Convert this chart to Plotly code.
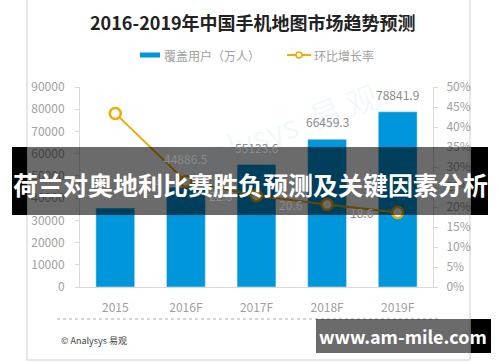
import plotly.graph_objects as go

# ---- data ----
categories = ["2015", "2016F", "2017F", "2018F", "2019F"]
users = [35500.8, 44886.5, 55123.6, 66459.3, 78841.9]
growth = [43.4, 26.4, 22.8, 20.6, 18.6]
growth_labels = ["43.4%", "26.4", "22.8", "20.6", "18.6"]
left_ticks = [0, 10000, 20000, 30000, 40000, 50000, 60000, 70000, 80000, 90000]
right_ticks = [0, 5, 10, 15, 20, 25, 30, 35, 40, 45, 50]
right_ticktext = [f"{t}%" for t in right_ticks]

title = "2016-2019年中国手机地图市场趋势预测"
legend_bar = "覆盖用户（万人）"
legend_line = "环比增长率"
banner = "荷兰对奥地利比赛胜负预测及关键因素分析"
site = "www.am-mile.com"
source = "© Analysys 易观"

W, H = 500, 362
L, R, T, B = 80, 433, 87, 287


def px(x):
    return (x - L) / (R - L)


def py(y):
    return (B - y) / (B - T)


FONT = "Noto Sans CJK SC, Noto Sans, sans-serif"
BLUE = "#0096DB"
ORANGE = "#F2A900"
GRAY = "#a0a0a0"

fig = go.Figure()
fig.add_trace(go.Bar(x=categories, y=users, marker_color=BLUE, width=0.55,
                     showlegend=False, hoverinfo="skip"))
fig.add_trace(go.Scatter(x=categories, y=growth, yaxis="y2", mode="lines+markers",
                         line=dict(color=ORANGE, width=2),
                         marker=dict(symbol="circle", size=11, color="white",
                                     line=dict(color=ORANGE, width=2.5)),
                         showlegend=False, hoverinfo="skip"))

annotations = []
# bar value labels
bar_shift = [11, 22, 11, 11, 11]
for c, v, s in zip(categories, users, bar_shift):
    annotations.append(dict(x=c, y=v, xref="x", yref="y", text=f"{v:.1f}",
                            showarrow=False, yanchor="bottom", xanchor="center", yshift=s - 4,
                            font=dict(family=FONT, size=12, color="#8a8a8a")))
# growth labels
for i, (c, v, t) in enumerate(zip(categories, growth, growth_labels)):
    if i == 0:
        annotations.append(dict(x=c, y=v, xref="x", yref="y2", text=t, showarrow=False,
                                yanchor="bottom", xanchor="center", yshift=5,
                                font=dict(family=FONT, size=12, color="#8a8a8a")))
    else:
        annotations.append(dict(x=c, y=v, xref="x", yref="y2", text=t, showarrow=False,
                                xanchor="right", yanchor="middle", xshift=-22, yshift=0,
                                font=dict(family=FONT, size=12, color="#8a8a8a")))


def paper_text(x, y, text, size, color, xanchor="center", angle=0):
    return dict(x=px(x), y=py(y), xref="paper", yref="paper", text=text,
                showarrow=False, xanchor=xanchor, yanchor="middle", textangle=angle,
                font=dict(family=FONT, size=size, color=color))


# watermark
annotations.append(paper_text(275, 130, "Analysys  易 观", 32, "rgba(0,150,220,0.07)", angle=-20))
# title
annotations.append(paper_text(253, 22, f"<b>{title}</b>", 18, "#222222"))
# legend texts
annotations.append(paper_text(162, 55, legend_bar, 12, "#a0a0a0", xanchor="left"))
annotations.append(paper_text(312, 55, legend_line, 12, "#a0a0a0", xanchor="left"))
# source
annotations.append(paper_text(59, 340, source, 9, "#444444", xanchor="left"))
# banners text
annotations.append(paper_text(250, 184, f"<b>{banner}</b>", 25, "white"))
annotations.append(paper_text(403, 336, f"<b>{site}</b>", 18, "white"))

shapes = [
    # card border
    dict(type="rect", xref="paper", yref="paper", x0=px(27), x1=px(470), y0=py(-2), y1=py(360),
         line=dict(color="#cfcfcf", width=1), fillcolor="rgba(0,0,0,0)", layer="below"),
    # legend bar swatch
    dict(type="rect", xref="paper", yref="paper", x0=px(140), x1=px(160), y0=py(52.5), y1=py(57.5),
         fillcolor=BLUE, line=dict(width=0)),
    # legend line swatch
    dict(type="line", xref="paper", yref="paper", x0=px(287), x1=px(311), y0=py(55), y1=py(55),
         line=dict(color=ORANGE, width=2)),
    dict(type="circle", xref="paper", yref="paper", x0=px(296), x1=px(302), y0=py(52), y1=py(58),
         fillcolor="white", line=dict(color=ORANGE, width=1.5)),
    # dotted separator
    dict(type="line", xref="paper", yref="paper", x0=px(57), x1=px(440), y0=py(319), y1=py(319),
         line=dict(color="#aaaaaa", width=1, dash="dot")),
    # main banner
    dict(type="rect", xref="paper", yref="paper", x0=px(12), x1=px(27), y0=py(147), y1=py(215),
         fillcolor="black", line=dict(width=0)),
    dict(type="rect", xref="paper", yref="paper", x0=px(27), x1=px(471), y0=py(147), y1=py(215),
         fillcolor="rgba(0,0,0,0.58)", line=dict(width=0)),
    dict(type="rect", xref="paper", yref="paper", x0=px(471), x1=px(488), y0=py(147), y1=py(215),
         fillcolor="black", line=dict(width=0)),
    # site banner
    dict(type="rect", xref="paper", yref="paper", x0=px(316), x1=px(471), y0=py(319), y1=py(353),
         fillcolor="rgba(0,0,0,0.58)", line=dict(width=0)),
    dict(type="rect", xref="paper", yref="paper", x0=px(471), x1=px(491), y0=py(319), y1=py(353),
         fillcolor="black", line=dict(width=0)),
]

axis_font = dict(family=FONT, size=12, color=GRAY)
fig.update_layout(
    width=W, height=H,
    margin=dict(l=L, r=W - R, t=T, b=H - B, pad=0),
    paper_bgcolor="white", plot_bgcolor="white",
    showlegend=False,
    bargap=0.45,
    xaxis=dict(type="category", range=[-0.5, 4.5], showline=True, linecolor="#d9d9d9",
               ticks="", tickfont=axis_font, ticklabelstandoff=10, showgrid=False,
               zeroline=False, fixedrange=True),
    yaxis=dict(range=[0, 90000], tickvals=left_ticks, ticktext=[str(t) for t in left_ticks],
               showline=True, linecolor="#d9d9d9", ticks="outside", ticklen=4,
               tickcolor="#d9d9d9", tickfont=axis_font, ticklabelstandoff=8,
               showgrid=False, zeroline=False),
    yaxis2=dict(range=[0, 50], overlaying="y", side="right", tickvals=right_ticks,
                ticktext=right_ticktext, showline=True, linecolor="#d9d9d9",
                ticks="outside", ticklen=4, tickcolor="#d9d9d9", tickfont=axis_font,
                ticklabelstandoff=6, showgrid=False, zeroline=False),
    annotations=annotations,
    shapes=shapes,
)

fig.write_html("out.html", config={"displayModeBar": False},
               post_script="document.body.style.margin='0';")
